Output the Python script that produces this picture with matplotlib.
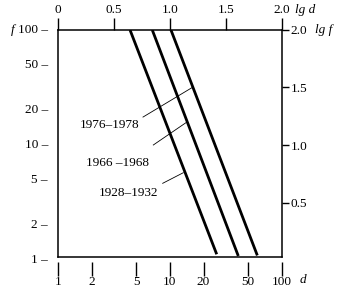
import numpy as np
import matplotlib.pyplot as plt
from matplotlib.ticker import NullLocator
from matplotlib.transforms import blended_transform_factory, offset_copy

plt.rcParams['font.family'] = ['Liberation Serif', 'DejaVu Serif']
plt.rcParams['font.size'] = 9.5

# three periods, straight lines in lg d / lg f coordinates
periods = ["1928–1932", "1966 –1968", "1976–1978"]
lgd_start = [0.644, 0.843, 1.010]
lgf_start = [2.0, 2.0, 2.0]
lgd_end = [1.419, 1.612, 1.782]
lgf_end = [0.05, 0.035, 0.04]

# where the labels sit and their thin leader lines
label_lgd = [0.897, 0.814, 0.727]
label_lgf = [0.583, 0.843, 1.174]
leader_lgd = [(0.936, 1.120), (0.852, 1.153), (0.760, 1.207)]
leader_lgf = [(0.667, 0.759), (1.000, 1.200), (1.243, 1.504)]

top_ticks = [0, 0.5, 1.0, 1.5, 2.0]
top_labels = ["0", "0.5", "1.0", "1.5", "2.0"]
right_ticks = [0.5, 1.0, 1.5, 2.0]
right_labels = ["0.5", "1.0", "1.5", "2.0"]
f_ticks = [1, 2, 5, 10, 20, 50, 100]
d_ticks = [1, 2, 5, 10, 20, 50, 100]

fig = plt.figure(figsize=(3.37, 2.94), dpi=100)
ax = fig.add_axes([0.1721, 0.1269, 0.6638, 0.7711])
ax.set_xlim(0, 2)
ax.set_ylim(0.029, 2.0)
for s in ax.spines.values():
    s.set_linewidth(1.1)

for i in range(3):
    ax.plot([lgd_start[i], lgd_end[i]], [lgf_start[i], lgf_end[i]],
            color='black', lw=2.0, solid_capstyle='butt')
    ax.plot(leader_lgd[i], leader_lgf[i], color='black', lw=0.6)
    ax.text(label_lgd[i], label_lgf[i], periods[i], ha='right', va='center')

# top: lg d
ax.xaxis.tick_top()
ax.set_xticks(top_ticks, top_labels)
ax.tick_params(axis='x', direction='out', length=9, width=1, pad=1)

# right: lg f
ax.yaxis.tick_right()
ax.set_yticks(right_ticks, right_labels)
ax.tick_params(axis='y', direction='out', length=5, width=1, pad=1.5)

# bottom: d, ticks detached from the frame
sec = ax.secondary_xaxis(-0.022, functions=(lambda x: 10 ** x, np.log10))
sec.spines['bottom'].set_visible(False)
sec.set_xticks(d_ticks, [str(v) for v in d_ticks])
sec.xaxis.set_minor_locator(NullLocator())
sec.tick_params(axis='x', direction='out', length=10, width=1, pad=0)

# left: f, labels with dashes
trans = blended_transform_factory(ax.transAxes, ax.transData)
for v in f_ticks:
    ax.text(0, np.log10(v), f"{v} –", ha='right', va='center', clip_on=False,
            transform=offset_copy(trans, fig=fig, x=-10, y=0, units='dots'))

ax.text(0, 1, "f", fontstyle='italic', ha='center', va='center',
        transform=offset_copy(ax.transAxes, fig=fig, x=-45, y=0, units='dots'))
ax.text(1, 1, "lg d", fontstyle='italic', ha='left', va='center',
        transform=offset_copy(ax.transAxes, fig=fig, x=13, y=20, units='dots'))
ax.text(1, 1, "lg f", fontstyle='italic', ha='left', va='center',
        transform=offset_copy(ax.transAxes, fig=fig, x=33, y=0, units='dots'))
ax.text(1, 0, "d", fontstyle='italic', ha='left', va='center',
        transform=offset_copy(ax.transAxes, fig=fig, x=18, y=-23, units='dots'))

fig.savefig("out.png", dpi=100)
